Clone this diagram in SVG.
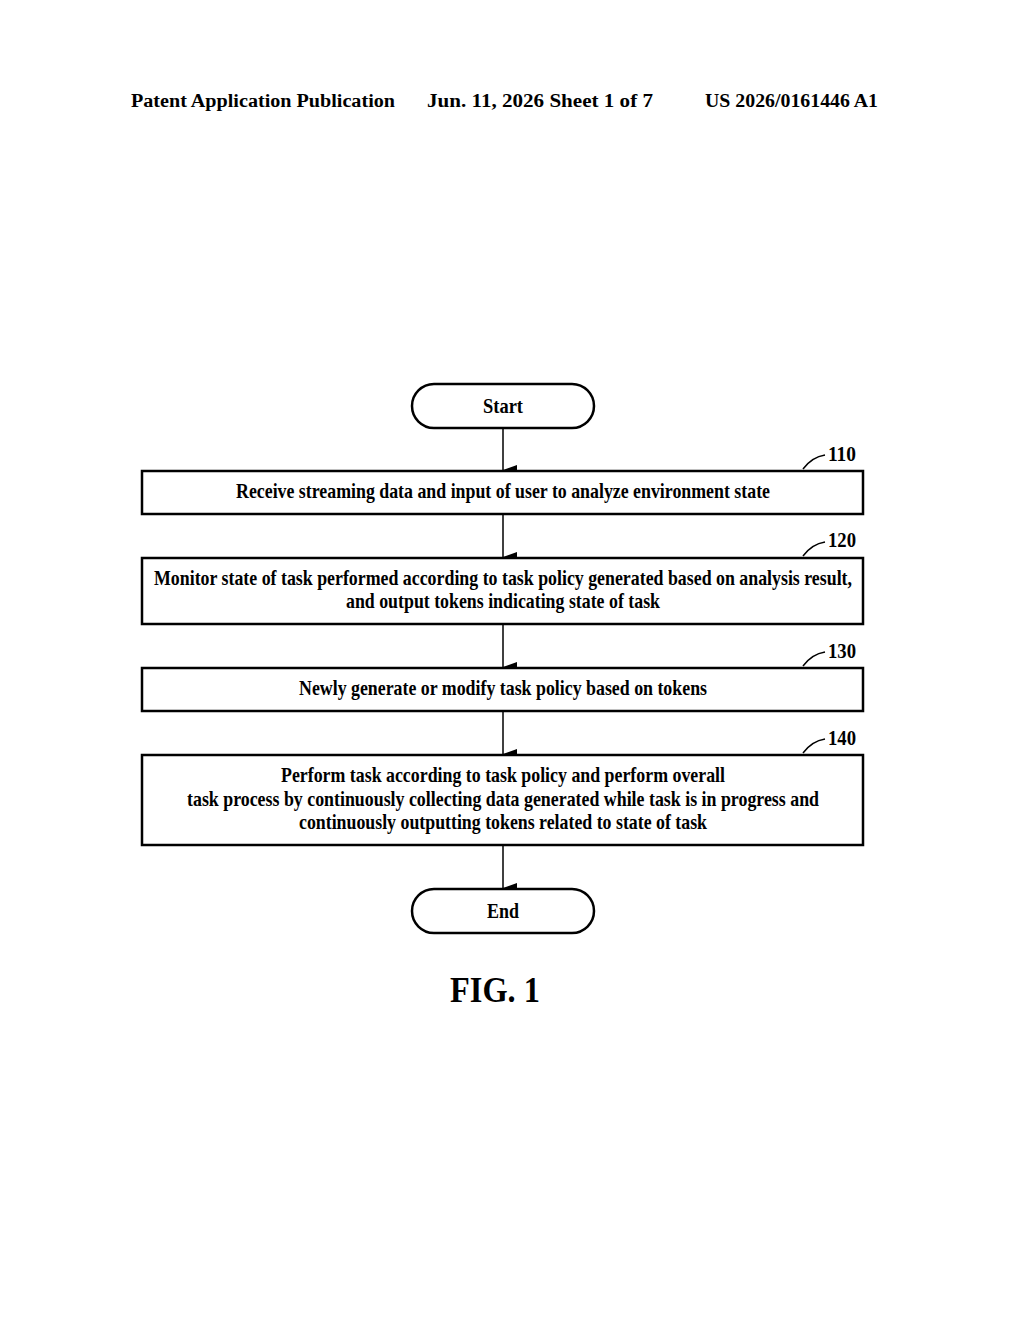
<svg xmlns="http://www.w3.org/2000/svg" width="1024" height="1320" viewBox="0 0 1024 1320">
<style>
text{font-family:"Liberation Serif","Times New Roman",serif;font-weight:bold;fill:#000}
.h{font-size:18px}
.t{font-size:21px;text-anchor:middle}
.n{font-size:20px}
.box{fill:#fff;stroke:#000;stroke-width:2.5}
.c{stroke:#000;stroke-width:1.5;fill:none}
</style>
<defs><marker id="a" markerWidth="10" markerHeight="14" refX="5" refY="14" orient="auto-start-reverse" markerUnits="userSpaceOnUse" viewBox="0 0 10 14"><path d="M0,0 L5,14 L10,0 Z" fill="#000"/></marker></defs>
<rect width="1024" height="1320" fill="#fff"/>
<text class="h" x="131" y="107" textLength="264" lengthAdjust="spacingAndGlyphs">Patent Application Publication</text>
<text class="h" x="427" y="107" textLength="226" lengthAdjust="spacingAndGlyphs">Jun. 11, 2026  Sheet 1 of 7</text>
<text class="h" x="705" y="107" textLength="173" lengthAdjust="spacingAndGlyphs">US 2026/0161446 A1</text>
<g id="connectors">
<line class="c" x1="503" y1="428" x2="503" y2="470" marker-end="url(#a)"/>
<line class="c" x1="503" y1="514" x2="503" y2="557" marker-end="url(#a)"/>
<line class="c" x1="503" y1="624" x2="503" y2="667" marker-end="url(#a)"/>
<line class="c" x1="503" y1="711" x2="503" y2="754" marker-end="url(#a)"/>
<line class="c" x1="503" y1="845" x2="503" y2="888" marker-end="url(#a)"/>
<path class="c" d="M803,469 Q812,457 825,455"/>
<path class="c" d="M803,556 Q812,544 825,542"/>
<path class="c" d="M803,666 Q812,654 825,652"/>
<path class="c" d="M803,753 Q812,741 825,739"/>
</g>
<g id="start"><rect class="box" x="412" y="384" width="182" height="44" rx="22"/><text class="t" x="503" y="413" textLength="40" lengthAdjust="spacingAndGlyphs">Start</text></g>
<g id="n110"><rect class="box" x="142" y="471" width="721" height="43"/><text class="t" x="503" y="498" textLength="534" lengthAdjust="spacingAndGlyphs">Receive streaming data and input of user to analyze environment state</text><text class="n" x="828" y="461" textLength="28" lengthAdjust="spacingAndGlyphs">110</text></g>
<g id="n120"><rect class="box" x="142" y="558" width="721" height="66"/><text class="t" x="503" y="585" textLength="698" lengthAdjust="spacingAndGlyphs">Monitor state of task performed according to task policy generated based on analysis result,</text><text class="t" x="503" y="608" textLength="314" lengthAdjust="spacingAndGlyphs">and output tokens indicating state of task</text><text class="n" x="828" y="547" textLength="28" lengthAdjust="spacingAndGlyphs">120</text></g>
<g id="n130"><rect class="box" x="142" y="668" width="721" height="43"/><text class="t" x="503" y="695" textLength="408" lengthAdjust="spacingAndGlyphs">Newly generate or modify task policy based on tokens</text><text class="n" x="828" y="658" textLength="28" lengthAdjust="spacingAndGlyphs">130</text></g>
<g id="n140"><rect class="box" x="142" y="755" width="721" height="90"/><text class="t" x="503" y="782" textLength="444" lengthAdjust="spacingAndGlyphs">Perform task according to task policy and perform overall</text><text class="t" x="503" y="806" textLength="632" lengthAdjust="spacingAndGlyphs">task process by continuously collecting data generated while task is in progress and</text><text class="t" x="503" y="829" textLength="408" lengthAdjust="spacingAndGlyphs">continuously outputting tokens related to state of task</text><text class="n" x="828" y="745" textLength="28" lengthAdjust="spacingAndGlyphs">140</text></g>
<g id="end"><rect class="box" x="412" y="889" width="182" height="44" rx="22"/><text class="t" x="503" y="918" textLength="32" lengthAdjust="spacingAndGlyphs">End</text></g>
<text x="495" y="1002" style="font-size:36px;text-anchor:middle" textLength="90" lengthAdjust="spacingAndGlyphs">FIG. 1</text>
</svg>
